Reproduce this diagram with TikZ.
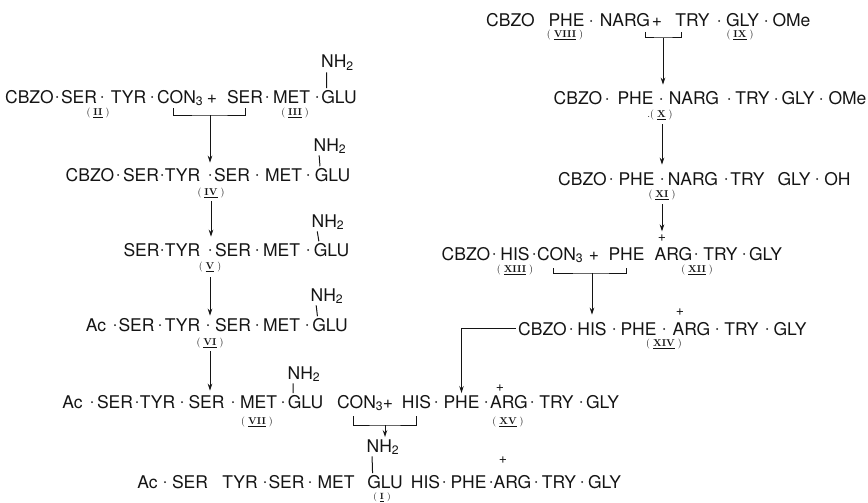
\documentclass[tikz,border=0pt]{standalone}
\usepackage{fontspec}
\usepackage{tikz}
\usetikzlibrary{arrows.meta, positioning, calc}
\newfontfamily\helv{TeX Gyre Heros}
\definecolor{ink}{RGB}{20,20,20}
\newcommand{\rn}[1]{(\hspace{3pt}\underline{\textbf{#1}}\hspace{3pt})}
\tikzset{
  res/.style={inner sep=0pt, anchor=base, text=ink,
    font={\helv\fontsize{17.5}{20}\selectfont}},
  chg/.style={inner sep=0pt, text=ink,
    font={\helv\fontsize{14}{14}\selectfont}},
  lab/.style={inner sep=0pt, text=ink, font={\fontsize{10}{11}\selectfont}},
  arrow/.style={-{Stealth[length=7pt,width=4.5pt]}, line width=1pt, color=ink},
  line/.style={line width=1pt, color=ink}
}

\begin{document}
\begin{tikzpicture}[x=1pt, y=1pt]
  \useasboundingbox (0,0) rectangle (868,-503);

  % (II) + (III)
  \node[res] (cbzoA) at (29.5,-103) {CBZO};
  \node[res] (serA) at (79,-103) {SER};
  \node[res] (tyrA) at (128.5,-103) {TYR};
  \node[res, anchor=base west] (conA) at (157,-103) {CON\textsubscript{3}};
  \node[res] (plusA) at (212,-103) {+};
  \node[res] (ser2A) at (245,-103) {SER};
  \node[res] (metA) at (291.5,-103) {MET};
  \node[res] (gluA) at (339,-103) {GLU};
  \node[res] (nhA) at (337.5,-68) {NH\textsubscript{2}};
  \node[lab] (labII) at (98,-113) {\rn{II}};
  \node[lab] (labIII) at (295,-113) {\rn{III}};
  \foreach \x in {57,102,152,267,317} \fill[ink] (\x,-97) circle (1pt);

  % (IV)
  \node[res] (cbzoB) at (90,-181) {CBZO};
  \node[res] (serB) at (141,-181) {SER};
  \node[res] (tyrB) at (182.5,-181) {TYR};
  \node[res] (ser2B) at (232,-181) {SER};
  \node[res] (metB) at (283.5,-181) {MET};
  \node[res] (gluB) at (332.5,-181) {GLU};
  \node[res] (nhB) at (330,-151) {NH\textsubscript{2}};
  \node[lab] (labIV) at (211,-193) {\rn{IV}};
  \foreach \x in {118,162,210,257,308} \fill[ink] (\x,-175) circle (1pt);

  % (V)
  \node[res] (serC) at (141.5,-256) {SER};
  \node[res] (tyrC) at (182.5,-256) {TYR};
  \node[res] (ser2C) at (233,-256) {SER};
  \node[res] (metC) at (281.5,-256) {MET};
  \node[res] (gluC) at (331.5,-256) {GLU};
  \node[res] (nhC) at (328,-227) {NH\textsubscript{2}};
  \node[lab] (labV) at (210,-267) {\rn{V}};
  \foreach \x in {162,210,257,308} \fill[ink] (\x,-250) circle (1pt);

  % (VI)
  \node[res] (acD) at (96,-331) {Ac};
  \node[res] (serD) at (136.5,-331) {SER};
  \node[res] (tyrD) at (182.5,-331) {TYR};
  \node[res] (ser2D) at (233,-331) {SER};
  \node[res] (metD) at (281.5,-331) {MET};
  \node[res] (gluD) at (330,-331) {GLU};
  \node[res] (nhD) at (327,-301) {NH\textsubscript{2}};
  \node[lab] (labVI) at (210,-343) {\rn{VI}};
  \foreach \x in {115,160,208,257,307} \fill[ink] (\x,-325) circle (1pt);

  % (VII) + (XV)
  \node[res] (acE) at (72.5,-408) {Ac};
  \node[res] (serE) at (115,-408) {SER};
  \node[res] (tyrE) at (157.5,-408) {TYR};
  \node[res] (ser2E) at (206.5,-408) {SER};
  \node[res] (metE) at (258.5,-408) {MET};
  \node[res] (gluE) at (305.5,-408) {GLU};
  \node[res] (nhE) at (304,-379) {NH\textsubscript{2}};
  \node[res, anchor=base west] (conE) at (337,-408) {CON\textsubscript{3}};
  \node[res] (plusE) at (388,-408) {+};
  \node[res] (hisE) at (416.5,-408) {HIS};
  \node[res] (pheE) at (461.5,-408) {PHE};
  \node[res] (argE) at (509,-408) {ARG};
  \node[res] (tryE) at (556.5,-408) {TRY};
  \node[res] (glyE) at (602.5,-408) {GLY};
  \node[chg] (chgE) at (500,-388) {+};
  \node[lab] (labVII) at (257,-422) {\rn{VII}};
  \node[lab] (labXV) at (508,-422) {\rn{XV}};
  \foreach \x in {92,137,182,233,283,436,486,532,581} \fill[ink] (\x,-402) circle (1pt);

  % (I)
  \node[res] (acF) at (147.5,-488) {Ac};
  \node[res] (serF) at (190,-488) {SER};
  \node[res] (tyrF) at (240,-488) {TYR};
  \node[res] (ser2F) at (286.5,-488) {SER};
  \node[res] (metF) at (336,-488) {MET};
  \node[res] (gluF) at (385,-488) {GLU};
  \node[res] (nhF) at (383,-452) {NH\textsubscript{2}};
  \node[res] (hisF) at (425.5,-488) {HIS};
  \node[res] (pheF) at (468.5,-488) {PHE};
  \node[res] (argF) at (512.5,-488) {ARG};
  \node[res] (tryF) at (559,-488) {TRY};
  \node[res] (glyF) at (604.5,-488) {GLY};
  \node[chg] (chgF) at (503,-460) {+};
  \node[lab, font={\fontsize{9}{10}\selectfont}] (labI) at (382,-497.5) {\rn{I}};
  \foreach \x in {165,265,310,444,491,536,582} \fill[ink] (\x,-482) circle (1pt);

  % (VIII) + (IX)
  \node[res] (cbzoR1) at (510.5,-27) {CBZO};
  \node[res] (pheR1) at (566.5,-27) {PHE};
  \node[res] (nargR1) at (625,-27) {NARG};
  \node[res] (plusR1) at (657,-27) {+};
  \node[res] (tryR1) at (692.5,-27) {TRY};
  \node[res] (glyR1) at (742.5,-27) {GLY};
  \node[res] (omeR1) at (791.5,-27) {OMe};
  \node[lab] (labVIII) at (565,-35) {\rn{VIII}};
  \node[lab] (labIX) at (740,-35) {\rn{IX}};
  \foreach \x in {591,719,766} \fill[ink] (\x,-21) circle (1pt);

  % (X)
  \node[res] (cbzoR2) at (578,-105) {CBZO};
  \node[res] (pheR2) at (635.5,-105) {PHE};
  \node[res] (nargR2) at (694,-105) {NARG};
  \node[res] (tryR2) at (752.5,-105) {TRY};
  \node[res] (glyR2) at (798,-105) {GLY};
  \node[res] (omeR2) at (847.5,-105) {OMe};
  \node[lab] (labX) at (660,-115) {.\rn{X}};
  \foreach \x in {607,661,729,776,821} \fill[ink] (\x,-99) circle (1pt);

  % (XI)
  \node[res] (cbzoR3) at (582.5,-185) {CBZO};
  \node[res] (pheR3) at (636.5,-185) {PHE};
  \node[res] (nargR3) at (693,-185) {NARG};
  \node[res] (tryR3) at (747.5,-185) {TRY};
  \node[res] (glyR3) at (794,-185) {GLY};
  \node[res] (ohR3) at (837.5,-185) {OH};
  \node[lab] (labXI) at (662,-195) {\rn{XI}};
  \foreach \x in {611,662,726,817} \fill[ink] (\x,-179) circle (1pt);

  % (XIII) + (XII)
  \node[res] (cbzoR4) at (466,-260) {CBZO};
  \node[res] (hisR4) at (515,-260) {HIS};
  \node[res, anchor=base west] (conR4) at (537,-260) {CON\textsubscript{3}};
  \node[res] (plusR4) at (594,-260) {+};
  \node[res] (pheR4) at (626.5,-260) {PHE};
  \node[res] (argR4) at (673.5,-260) {ARG};
  \node[res] (tryR4) at (720.5,-260) {TRY};
  \node[res] (glyR4) at (765.5,-260) {GLY};
  \node[chg] (chgR4) at (662,-238) {+};
  \node[lab] (labXIII) at (515,-270) {\rn{XIII}};
  \node[lab] (labXII) at (697,-270) {\rn{XII}};
  \foreach \x in {494,534,696,744} \fill[ink] (\x,-254) circle (1pt);

  % (XIV)
  \node[res] (cbzoR5) at (542.5,-335) {CBZO};
  \node[res] (hisR5) at (592,-335) {HIS};
  \node[res] (pheR5) at (638.5,-335) {PHE};
  \node[res] (argR5) at (691.5,-335) {ARG};
  \node[res] (tryR5) at (741.5,-335) {TRY};
  \node[res] (glyR5) at (790,-335) {GLY};
  \node[chg] (chgR5) at (680,-312) {+};
  \node[lab] (labXIV) at (664,-344) {\rn{XIV}};
  \foreach \x in {571,614,664,717,767} \fill[ink] (\x,-329) circle (1pt);

  % NH2 side chains
  \foreach \n in {A,B,C,D,E,F}
    \draw[line, shorten <=1.5pt, shorten >=1.5pt]
      ([xshift=5.5pt]nh\n.south west) -- ([xshift=5.5pt]glu\n.north west);

  % couplings
  \coordinate (brA) at (210,-115);
  \draw[line] ([xshift=16pt,yshift=-5pt]conA.base west) |- (brA) -| ([yshift=-5pt]ser2A.base);
  \draw[arrow, shorten >=5pt] (brA) -- (brA |- ser2B.north);

  \coordinate (brE) at (385,-425);
  \draw[line] ([xshift=16pt,yshift=-8pt]conE.base west) |- (brE) -| ([yshift=-8pt]hisE.base);
  \draw[arrow, shorten >=2pt] (brE) -- (brE |- nhF.north);

  \coordinate (brR1) at (663,-38);
  \draw[line] ([xshift=20pt,yshift=-5pt]nargR1.base) |- (brR1) -| ([xshift=-11pt,yshift=-5pt]tryR1.base);
  \draw[arrow, shorten >=7pt] (brR1) -- (brR1 |- nargR2.north);

  \coordinate (brR4) at (592,-273);
  \draw[line] ([xshift=16pt,yshift=-8pt]conR4.base west) |- (brR4) -| ([yshift=-8pt]pheR4.base);
  \draw[arrow, shorten >=7pt] (brR4) -- (brR4 |- hisR5.north);

  % deprotection steps
  \draw[arrow, shorten <=3pt, shorten >=6pt] (labIV.south) -- (labIV.south |- ser2C.north);
  \draw[arrow, shorten <=5pt, shorten >=2pt] (labV.south) -- (labV.south |- ser2D.north);
  \draw[arrow, shorten <=3pt, shorten >=4pt] (labVI.south) -- (labVI.south |- ser2E.north);
  \draw[arrow, shorten <=4pt, shorten >=7pt] ([xshift=2pt]labX.south) -- ([xshift=2pt]labX.south |- nargR3.north);
  \draw[arrow, shorten <=4pt, shorten >=3pt] (labXI.south) -- (chgR4.north);
  \draw[arrow, shorten <=2pt, shorten >=2pt] (cbzoR5.west) -| (pheE.north);
\end{tikzpicture}
\end{document}
